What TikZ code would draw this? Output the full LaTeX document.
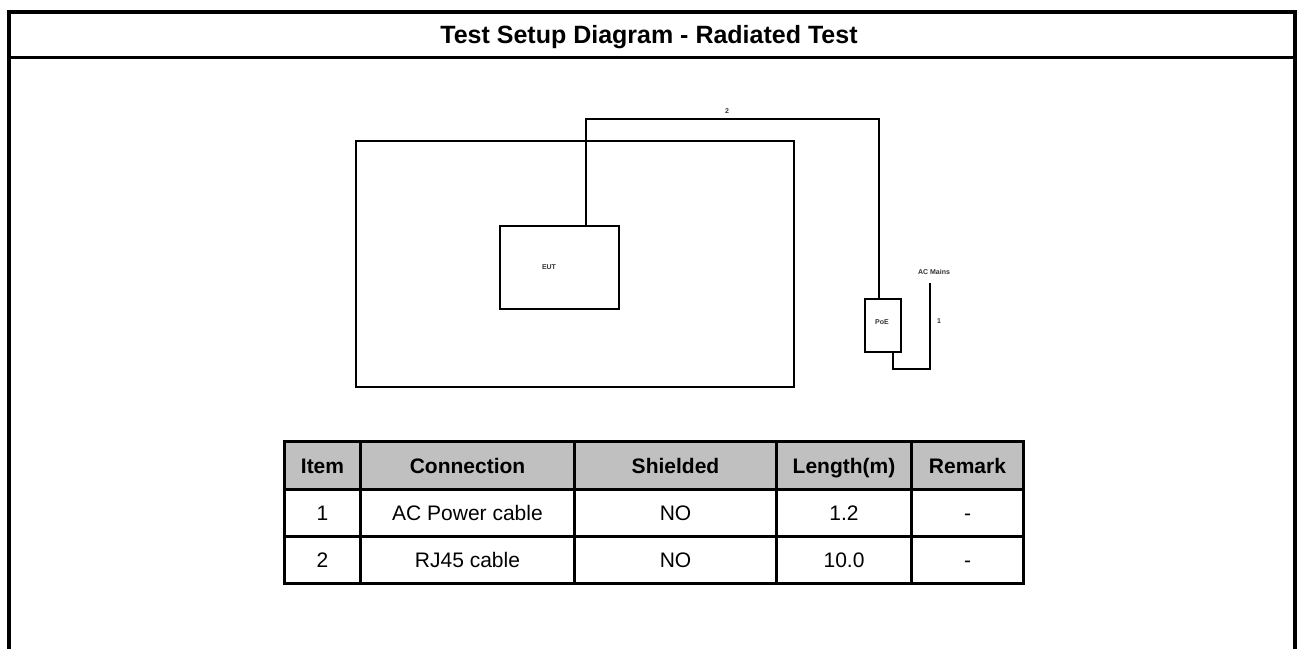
\documentclass[tikz,border=0pt]{standalone}
\usepackage{fontspec}
\setmainfont{Liberation Sans}
\definecolor{hdrgray}{HTML}{C0C0C0}
\definecolor{lbl}{HTML}{333333}
\begin{document}
\begin{tikzpicture}[x=1pt,y=-1pt,
  frame/.style={line width=4pt},
  wire/.style={line width=2pt,line cap=rect},
  box/.style={draw,line width=2pt,inner sep=0pt},
  tiny/.style={font=\fontsize{7}{8}\selectfont\bfseries,text=lbl,inner sep=0pt},
  cell/.style={draw,line width=3pt,inner sep=0pt,anchor=north west,
    text height=15pt,text depth=0pt,font=\fontsize{21}{24}\selectfont},
  hcell/.style={cell,fill=hdrgray,font=\fontsize{21}{24}\selectfont\bfseries}]
\useasboundingbox (0,0) rectangle (1298,648);
\fill[white] (0,0) rectangle (1298,648);
% outer frame
\coordinate (fbl) at (9,650);
\coordinate (ftl) at (9,12);
\coordinate (ftr) at (1295,12);
\coordinate (fbr) at (1295,650);
\draw[frame] (fbl) -- (ftl) -- (ftr) -- (fbr);
\coordinate (sepl) at (9,57);
\coordinate (sepr) at (1295,57);
\draw[line width=3pt] (sepl) -- (sepr);
\node[font=\fontsize{25}{28}\selectfont\bfseries,text height=18pt,text depth=0pt,inner sep=0pt] (title) at (649,34) {Test Setup Diagram - Radiated Test};
% diagram
\node[box,minimum width=438pt,minimum height=246pt,anchor=north west] (room) at (355,140) {};
\node[box,minimum width=119pt,minimum height=83pt,anchor=north west] (eut) at (499,225) {};
\node[tiny] (eutl) at (549,267) {EUT};
\node[box,minimum width=36pt,minimum height=53pt,anchor=north west] (poe) at (864,298) {};
\node[tiny] (poel) at (882,322) {PoE};
\node[tiny] (acm) at (934,272) {AC Mains};
\node[tiny] (l1) at (939,321) {1};
\node[tiny] (l2) at (727,111) {2};
\coordinate (c2a) at (586,119);
\coordinate (c2b) at (879,119);
\draw[wire] (eut.north -| c2a) -- (c2a) -- (c2b) -- (poe.north -| c2b);
\coordinate (c1a) at (893,369);
\coordinate (c1b) at (930,369);
\coordinate (c1c) at (930,284);
\draw[wire] (poe.south -| c1a) -- (c1a) -- (c1b) -- (c1c);
% cable table
\node[hcell,minimum width=76pt,minimum height=48pt] (h1) at (283,440) {Item};
\node[hcell,minimum width=214pt,minimum height=48pt] (h2) at (359,440) {Connection};
\node[hcell,minimum width=202pt,minimum height=48pt] (h3) at (573,440) {Shielded};
\node[hcell,minimum width=135pt,minimum height=48pt] (h4) at (775,440) {Length(m)};
\node[hcell,minimum width=112pt,minimum height=48pt] (h5) at (910,440) {Remark};
\node[cell,minimum width=76pt,minimum height=47pt] (a1) at (283,488) {1};
\node[cell,minimum width=214pt,minimum height=47pt] (a2) at (359,488) {AC Power cable};
\node[cell,minimum width=202pt,minimum height=47pt] (a3) at (573,488) {NO};
\node[cell,minimum width=135pt,minimum height=47pt] (a4) at (775,488) {1.2};
\node[cell,minimum width=112pt,minimum height=47pt] (a5) at (910,488) {-};
\node[cell,minimum width=76pt,minimum height=47pt] (b1) at (283,535) {2};
\node[cell,minimum width=214pt,minimum height=47pt] (b2) at (359,535) {RJ45 cable};
\node[cell,minimum width=202pt,minimum height=47pt] (b3) at (573,535) {NO};
\node[cell,minimum width=135pt,minimum height=47pt] (b4) at (775,535) {10.0};
\node[cell,minimum width=112pt,minimum height=47pt] (b5) at (910,535) {-};
\end{tikzpicture}
\end{document}
